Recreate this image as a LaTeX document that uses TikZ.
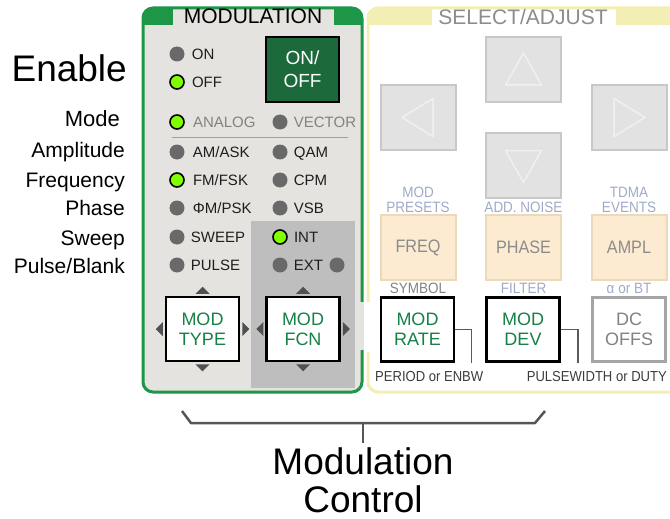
\documentclass[tikz,border=0pt]{standalone}
\usepackage{fontspec}
\setmainfont{Liberation Sans}
\newfontfamily\narrowfont[FakeStretch=0.9]{Liberation Sans}
\usetikzlibrary{calc,positioning}
\definecolor{figInk}{RGB}{30,30,30}
\definecolor{panelGreen}{RGB}{30,150,72}
\definecolor{panelGray}{RGB}{228,227,223}
\definecolor{fcnGray}{RGB}{190,190,190}
\definecolor{onGreen}{RGB}{28,106,60}
\definecolor{modGreen}{RGB}{22,128,70}
\definecolor{ledGray}{RGB}{105,105,105}
\definecolor{ledGreen}{RGB}{128,255,0}
\definecolor{panelYellow}{RGB}{243,238,180}
\definecolor{keyFill}{RGB}{226,226,226}
\definecolor{keyEdge}{RGB}{200,200,200}
\definecolor{triLine}{RGB}{240,240,240}
\definecolor{softFill}{RGB}{252,235,208}
\definecolor{softEdge}{RGB}{234,218,188}
\definecolor{softText}{RGB}{140,140,140}
\definecolor{capBlue}{RGB}{158,170,200}
\definecolor{dimGray}{RGB}{130,130,130}
\definecolor{offGray}{RGB}{165,165,165}
\definecolor{titleGray}{RGB}{140,140,140}
\definecolor{leadGray}{RGB}{90,90,90}
\definecolor{noteInk}{RGB}{60,60,60}
\definecolor{braceGray}{RGB}{85,85,85}
\definecolor{tickGray}{RGB}{80,80,80}
\definecolor{sepGray}{RGB}{160,160,160}
\begin{document}
\begin{tikzpicture}[
  x=1pt,y=-1pt,
  font=\fontsize{15}{15}\selectfont,
  led/.style={circle,fill=ledGray,minimum size=15pt,inner sep=0pt},
  ledon/.style={led,fill=ledGreen,draw=black,line width=1.6pt,minimum size=14pt},
  lbl/.style={anchor=west,inner sep=0pt,text height=11pt,text depth=0pt,text=figInk,font=\fontsize{15}{15}\selectfont},
  dimlbl/.style={lbl,text=dimGray},
  rowlabel/.style={anchor=east,inner sep=0pt,text height=15pt,text depth=0pt,text=black,font=\fontsize{21}{21}\selectfont},
  modkey/.style={draw=black,line width=2.5pt,fill=white,minimum width=73pt,minimum height=64pt,align=center,text=modGreen,font=\fontsize{18}{20}\selectfont,inner sep=0pt},
  padkey/.style={draw=keyEdge,line width=2pt,fill=keyFill,minimum width=75pt,minimum height=65pt,inner sep=0pt},
  softkey/.style={padkey,draw=softEdge,fill=softFill,text=softText,font=\narrowfont\fontsize{18}{18}\selectfont},
  keycap/.style={inner sep=0pt,align=center,text=capBlue,font=\narrowfont\fontsize{15}{15}\selectfont},
  padtri/.style={draw=triLine,line width=1.5pt,line join=round},
  tick/.style={fill=tickGray},
  lead/.style={draw=leadGray,line width=1.5pt},
  note/.style={inner sep=0pt,text=noteInk,font=\narrowfont\fontsize{14.5}{14.5}\selectfont},
  brace/.style={draw=braceGray,line width=2.5pt,line join=round},
  title/.style={inner sep=0pt,font=\fontsize{21}{21}\selectfont}
]
\useasboundingbox (0,0) rectangle (670,519);

\fill[panelGray,rounded corners=10pt] (143,8) rectangle (362,392);
\fill[fcnGray] (251,221) rectangle (355,388);
\begin{scope}
  \clip[rounded corners=10pt] (143,8) rectangle (362,392);
  \fill[panelGreen] (143,8) rectangle (173,25);
  \fill[panelGreen] (334,8) rectangle (362,25);
\end{scope}
\draw[panelGreen,line width=3pt,rounded corners=10pt] (143,8) rectangle (362,392);
\fill[panelGray] (360,302) rectangle (364,350);
\node[title,text=black] (modtitle) at (253,16) {MODULATION};

\begin{scope}
  \clip[rounded corners=10pt] (368,8) rectangle (700,392);
  \fill[panelYellow] (368,9) rectangle (432,25);
  \fill[panelYellow] (616,9) rectangle (700,25);
\end{scope}
\draw[panelYellow,line width=3pt,rounded corners=10pt] (368,8) rectangle (700,392);
\fill[white] (366,302) rectangle (370,352);
\node[title,text=titleGray] (seltitle) at (523,17) {SELECT/ADJUST};

\node[anchor=east,inner sep=0pt,font=\fontsize{37}{37}\selectfont] (enable) at (127,68) {Enable};
\node[rowlabel,font=\fontsize{22}{22}\selectfont] (rmode) at (120,118.5) {Mode};
\node[rowlabel] (ramp) at (125,150) {Amplitude};
\node[rowlabel] (rfreq) at (125,179.5) {Frequency};
\node[rowlabel] (rphase) at (125,207.5) {Phase};
\node[rowlabel] (rsweep) at (125,237.5) {Sweep};
\node[rowlabel] (rpulse) at (125,265.5) {Pulse/Blank};

\node[led] (lon) at (177,54) {};
\node[lbl,right=7pt of lon] (ton) {ON};
\node[ledon] (loff) at (177,82) {};
\node[lbl,right=7pt of loff] (toff) {OFF};
\node[draw=black,line width=2.5pt,fill=onGreen,minimum width=73pt,minimum height=65pt,
  text=white,align=center,inner sep=0pt,font=\fontsize{19}{23}\selectfont] (onoff) at (302.5,69.5) {ON/\\OFF};

\node[ledon] (lanalog) at (177,122) {};
\node[dimlbl,right=8pt of lanalog] (tanalog) {ANALOG};
\node[led] (lvector) at (280,122) {};
\node[dimlbl,right=6pt of lvector] (tvector) {VECTOR};
\draw[sepGray,line width=1pt] (172,137) -- (348,137);

\node[led] (lam) at (177,152) {};
\node[lbl,right=8pt of lam] (tam) {AM/ASK};
\node[led] (lqam) at (280,152) {};
\node[lbl,right=6pt of lqam] (tqam) {QAM};
\node[ledon] (lfm) at (177,180) {};
\node[lbl,right=8pt of lfm] (tfm) {FM/FSK};
\node[led] (lcpm) at (280,180) {};
\node[lbl,right=6pt of lcpm] (tcpm) {CPM};
\node[led] (lpm) at (177,208) {};
\node[lbl,right=8pt of lpm] (tpm) {ΦM/PSK};
\node[led] (lvsb) at (280,208) {};
\node[lbl,right=6pt of lvsb] (tvsb) {VSB};
\node[led] (lsweep) at (177,237) {};
\node[lbl,right=6pt of lsweep] (tsweep) {SWEEP};
\node[ledon] (lint) at (280,237) {};
\node[lbl,right=6pt of lint] (tint) {INT};
\node[led] (lpulse) at (177,265) {};
\node[lbl,right=6pt of lpulse] (tpulse) {PULSE};
\node[led] (lext) at (280,265) {};
\node[lbl,right=6pt of lext] (text) {EXT};
\node[led] (lext2) at (337,265) {};

\node[modkey] (mtype) at (202.5,329) {MOD\\TYPE};
\node[modkey] (mfcn) at (303,329) {MOD\\FCN};
\foreach \k in {mtype,mfcn}{
  \fill[tick] ($(\k.north)+(-7,-2)$) -- ++(14,0) -- ++(-7,-7) -- cycle;
  \fill[tick] ($(\k.south)+(-7,2)$) -- ++(14,0) -- ++(-7,7) -- cycle;
  \fill[tick] ($(\k.west)+(-2,-7)$) -- ++(0,14) -- ++(-7,-7) -- cycle;
  \fill[tick] ($(\k.east)+(2,-7)$) -- ++(0,14) -- ++(7,-7) -- cycle;
}

\node[padkey] (kup) at (523.5,70) {};
\node[padkey] (kleft) at (418,117.5) {};
\node[padkey] (kright) at (629,117.5) {};
\node[padkey] (kdown) at (523.5,165.5) {};
\draw[padtri] ($(kup)+(-18,15)$) -- ($(kup)+(18,15)$) -- ($(kup)+(0,-17)$) -- cycle;
\draw[padtri] ($(kdown)+(-18,-15)$) -- ($(kdown)+(18,-15)$) -- ($(kdown)+(0,17)$) -- cycle;
\draw[padtri] ($(kleft)+(15,-19)$) -- ($(kleft)+(15,19)$) -- ($(kleft)+(-16,0)$) -- cycle;
\draw[padtri] ($(kright)+(-15,-19)$) -- ($(kright)+(-15,19)$) -- ($(kright)+(16,0)$) -- cycle;

\node[keycap] (cpre) at (418,199.5) {MOD\\PRESETS};
\node[keycap] (cnoise) at (523.5,207) {ADD. NOISE};
\node[keycap] (ctdma) at (629,199.5) {TDMA\\EVENTS};
\node[softkey] (kfreq) at (418,247.5) {FREQ};
\node[softkey] (kphase) at (523.5,247.5) {PHASE};
\node[softkey] (kampl) at (629,247.5) {AMPL};
\node[keycap,text=dimGray] (csym) at (418,288) {SYMBOL};
\node[keycap] (cfilt) at (523.5,288) {FILTER};
\node[keycap] (calpha) at (629,288) {α or BT};

\node[modkey] (mrate) at (417.5,329.5) {MOD\\RATE};
\node[modkey] (mdev) at (523,329.5) {MOD\\DEV};
\node[modkey,draw=offGray,text=dimGray] (mdc) at (629,329.5) {DC\\OFFS};
\draw[lead] (mrate.east) -| ($(mrate.south east)+(16,0)$);
\draw[lead] (mdev.east) -| ($(mdev.south east)+(17,0)$);
\node[note,anchor=west] (nperiod) at (375,377) {PERIOD or ENBW};
\node[note,anchor=east] (npulse) at (667,377) {PULSEWIDTH or DUTY};

\coordinate (bl) at (182,411);
\coordinate (blc) at (191,423);
\coordinate (brc) at (535,423);
\coordinate (br) at (545,411);
\coordinate (bmid) at (363,423);
\coordinate (btip) at (363,443);
\draw[brace] (bl) -- (blc) -- (brc) -- (br);
\draw[brace] (bmid) -- (btip);
\node[anchor=north,inner sep=0pt,align=center,font=\fontsize{37}{38}\selectfont] (mctl) at (363,447) {Modulation\\Control};

\end{tikzpicture}
\end{document}
